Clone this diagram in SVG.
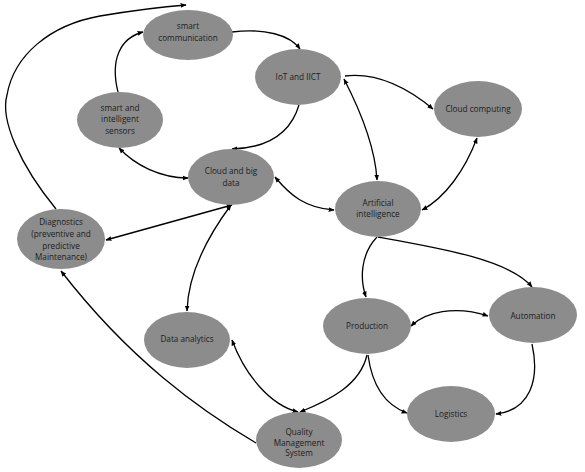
<svg xmlns="http://www.w3.org/2000/svg" width="585" height="472" viewBox="0 0 585 472">
<defs>
<style>
.n ellipse{fill:#8c8c8c;stroke:none}
.n text{font-family:"Open Sans","DejaVu Sans",sans-serif;font-size:8.2px;fill:#1c1c1c;text-anchor:middle}
.c path{fill:none;stroke:#000;stroke-width:1.3}
.a{marker-end:url(#ah)}
.b{marker-start:url(#ah);marker-end:url(#ah)}
</style>
<marker id="ah" viewBox="0 0 10 10" refX="9" refY="5" markerWidth="6" markerHeight="6" markerUnits="userSpaceOnUse" orient="auto-start-reverse">
<path d="M0,1 L10,5 L0,9 Z" fill="#000"/>
</marker>
</defs>
<rect width="585" height="472" fill="#fff"/>
<g id="connectors" class="c">
<path class="a" d="M56 209 C20 165 0 120 7 95 C14 55 50 25 100 16 C130 11 160 7 186 5"/>
<path class="a" d="M118 92 C110 60 120 38 143 32"/>
<path class="a" d="M232 32 C265 28 290 35 300 49"/>
<path class="a" d="M299 105 C290 135 265 148 232 149"/>
<path class="a" d="M345 76 C380 72 410 90 433 109"/>
<path class="b" d="M344 79 C360 110 375 145 377 180"/>
<path class="b" d="M477 138 C465 170 445 198 422 210"/>
<path class="b" d="M275 177 C290 195 305 208 334 210"/>
<path class="b" d="M119 148 C135 165 160 178 188 178"/>
<path class="b" d="M232 205 L106 240"/>
<path class="b" d="M231 205 C205 240 188 275 187 311"/>
<path class="a" d="M256 443 C200 410 130 360 61 271"/>
<path class="b" d="M232 340 C245 375 270 405 298 412"/>
<path class="a" d="M367 355 C360 385 330 400 300 412"/>
<path class="a" d="M368 355 C372 385 385 405 407 413"/>
<path class="a" d="M532 344 C540 380 530 410 496 414"/>
<path class="b" d="M411 326 C425 312 455 305 488 316"/>
<path class="a" d="M377 237 C360 255 360 280 366 297"/>
<path class="a" d="M378 237 C440 248 510 260 532 287"/>
</g>
<g id="smart-communication" class="n"><ellipse cx="188" cy="35" rx="45" ry="25"/><text x="188" y="29">smart</text><text x="188" y="41">communication</text></g>
<g id="iot" class="n"><ellipse cx="298" cy="77" rx="43" ry="28"/><text x="298" y="80">IoT and IICT</text></g>
<g id="cloud-computing" class="n"><ellipse cx="478" cy="109" rx="44" ry="28"/><text x="478" y="112">Cloud computing</text></g>
<g id="sensors" class="n"><ellipse cx="120" cy="120" rx="43" ry="28"/><text x="120" y="111">smart and</text><text x="120" y="122">intelligent</text><text x="120" y="134">sensors</text></g>
<g id="cloud-big-data" class="n"><ellipse cx="231" cy="177" rx="43" ry="28"/><text x="231" y="174">Cloud and big</text><text x="231" y="186">data</text></g>
<g id="ai" class="n"><ellipse cx="378" cy="209" rx="43" ry="28"/><text x="378" y="206">Artificial</text><text x="378" y="217">intelligence</text></g>
<g id="diagnostics" class="n"><ellipse cx="61" cy="239" rx="44" ry="30"/><text x="61" y="225">Diagnostics</text><text x="61" y="237">(preventive and</text><text x="61" y="249">predictive</text><text x="61" y="260">Maintenance)</text></g>
<g id="data-analytics" class="n"><ellipse cx="187" cy="340" rx="43" ry="28"/><text x="187" y="342">Data analytics</text></g>
<g id="production" class="n"><ellipse cx="367" cy="326" rx="44" ry="28"/><text x="367" y="329">Production</text></g>
<g id="automation" class="n"><ellipse cx="533" cy="315" rx="44" ry="28"/><text x="533" y="319">Automation</text></g>
<g id="logistics" class="n"><ellipse cx="451" cy="414" rx="44" ry="28"/><text x="451" y="417">Logistics</text></g>
<g id="qms" class="n"><ellipse cx="299" cy="440" rx="43" ry="28"/><text x="299" y="435">Quality</text><text x="299" y="446">Management</text><text x="299" y="456">System</text></g>
</svg>
